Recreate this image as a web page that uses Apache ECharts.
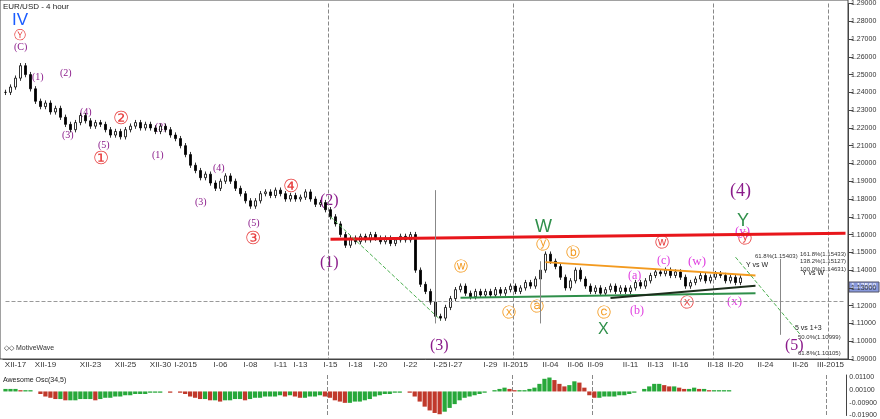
<!DOCTYPE html><html><head><meta charset="utf-8">
<script src="https://cdn.jsdelivr.net/npm/echarts@6/dist/echarts.min.js"></script>
<style>html,body{margin:0;background:#fff}#c{width:880px;height:419px}</style></head><body><div id="c"></div>
<script>
const closes=[1.240,1.243,1.248,1.255,1.250,1.242,1.235,1.232,1.234,1.229,1.231,1.226,1.222,1.219,1.223,1.227,1.224,1.221,1.223,1.222,
1.219,1.216,1.218,1.215,1.219,1.221,1.223,1.220,1.222,1.220,1.218,1.221,1.219,1.216,1.214,1.210,1.205,1.199,1.196,1.192,
1.194,1.189,1.186,1.190,1.193,1.190,1.186,1.183,1.179,1.176,1.179,1.183,1.184,1.182,1.185,1.183,1.180,1.182,1.180,1.181,
1.184,1.180,1.177,1.178,1.174,1.170,1.166,1.160,1.154,1.158,1.156,1.159,1.157,1.160,1.158,1.156,1.158,1.155,1.157,1.159,
1.157,1.160,1.140,1.132,1.128,1.122,1.114,1.113,1.119,1.124,1.129,1.131,1.127,1.125,1.128,1.126,1.128,1.126,1.129,1.127,
1.129,1.131,1.128,1.130,1.133,1.131,1.135,1.140,1.149,1.145,1.142,1.136,1.130,1.134,1.140,1.135,1.131,1.128,1.130,1.127,
1.129,1.131,1.128,1.130,1.128,1.130,1.133,1.131,1.134,1.137,1.139,1.138,1.140,1.137,1.139,1.136,1.131,1.133,1.135,1.137,
1.134,1.136,1.138,1.137,1.134,1.136,1.133,1.1356];
const ao=[0.002,0.002,0.002,0.001,0.001,0.001,0,-0.002,-0.004,-0.005,-0.006,-0.006,-0.007,-0.007,-0.007,-0.006,-0.006,-0.006,-0.007,-0.006,
-0.005,-0.005,-0.004,-0.004,-0.003,-0.003,-0.002,-0.002,-0.002,-0.001,-0.001,-0.001,0,-0.001,0,-0.001,-0.002,-0.004,-0.005,-0.006,
-0.006,-0.007,-0.007,-0.008,-0.007,-0.007,-0.006,-0.006,-0.007,-0.006,-0.005,-0.005,-0.004,-0.004,-0.004,-0.003,-0.004,-0.003,-0.004,-0.005,
-0.005,-0.004,-0.004,-0.003,-0.004,-0.005,-0.007,-0.008,-0.009,-0.009,-0.008,-0.008,-0.007,-0.006,-0.004,-0.003,-0.002,-0.002,-0.001,-0.001,
0,-0.001,-0.004,-0.008,-0.012,-0.015,-0.017,-0.018,-0.016,-0.013,-0.010,-0.007,-0.005,-0.004,-0.003,-0.002,-0.001,0,0.001,0.002,
0.003,0.002,0.001,0.001,0.001,0.002,0.003,0.006,0.010,0.011,0.009,0.006,0.004,0.005,0.008,0.007,0.003,-0.003,-0.005,-0.005,
-0.004,-0.004,-0.004,-0.003,-0.003,-0.002,-0.001,0,0.002,0.004,0.006,0.006,0.005,0.004,0.004,0.003,0.002,0.002,0.003,0.002,
0.002,0.001,0.001,0.001,0.001,0.001,0.000,0.000];
const dateLabels={2:'XII-17',8:'XII-19',17:'XII-23',24:'XII-25',31:'XII-30',36:'I-2015',43:'I-06',49:'I-08',55:'I-11',59:'I-13',65:'I-15',70:'I-18',75:'I-20',81:'I-22',87:'I-25',90:'I-27',97:'I-29',102:'II-2015',109:'II-04',114:'II-06',118:'II-09',125:'II-11',130:'II-13',135:'II-16',142:'II-18',146:'II-20',152:'II-24',159:'II-26',165:'III-2015'};
const N=169;
const cats=[];for(let i=0;i<N;i++)cats.push(String(i));
const ohlc=closes.map((c,i)=>{const o=i?closes[i-1]:c;return [o,c,Math.min(o,c)-0.0015,Math.max(o,c)+0.0015];});
const aoData=ao.map((v,i)=>({value:v,itemStyle:{color:(i&&v<ao[i-1])?'#c0392b':'#27a83a'}}));
const chart=echarts.init(document.getElementById('c'));
function ln(a,b,col,w,t){return [{coord:[String(a[0]),a[1]],lineStyle:{color:col,width:w,type:t||'solid'}},{coord:[String(b[0]),b[1]]}];}
const txt=(x,y,s,c,f,fam)=>({type:'text',left:x,top:y,style:{text:s,fill:c,font:(f||11)+'px '+(fam||'serif')}});
chart.setOption({animation:false,
grid:[{left:3,right:32,top:3,height:356},{left:3,right:32,top:375,height:42}],
xAxis:[{type:'category',data:cats,gridIndex:0,boundaryGap:true,
 axisLine:{lineStyle:{color:'#444'}},axisTick:{interval:i=>dateLabels[i]!==undefined,lineStyle:{color:'#444'}},
 axisLabel:{interval:i=>dateLabels[i]!==undefined,formatter:(v,i)=>dateLabels[i]||'',fontSize:8,color:'#333',margin:2},
 splitLine:{show:true,interval:i=>[65,102,142,165].includes(i),lineStyle:{color:'#888',type:'dashed'}}},
 {type:'category',data:cats,gridIndex:1,axisLabel:{show:false},axisTick:{show:false},axisLine:{show:false},
 splitLine:{show:true,interval:i=>[65,102,118,165].includes(i),lineStyle:{color:'#888',type:'dashed'}}}],
yAxis:[{type:'value',gridIndex:0,position:'right',min:1.09,max:1.29,interval:0.01,
 axisLabel:{fontSize:7,color:'#333',formatter:v=>v.toFixed(5),margin:3},axisLine:{show:true,lineStyle:{color:'#444'}},axisTick:{show:true},splitLine:{show:false}},
 {type:'value',gridIndex:1,position:'right',min:-0.019,max:0.013,interval:0.01,
 axisLabel:{fontSize:7,color:'#333',formatter:v=>Math.abs(v)<1e-9?'':v.toFixed(5),margin:3},axisLine:{show:true,lineStyle:{color:'#444'}},splitLine:{show:false}}],
series:[{type:'candlestick',data:ohlc,xAxisIndex:0,yAxisIndex:0,barWidth:2,
 itemStyle:{color:'#fff',color0:'#000',borderColor:'#000',borderColor0:'#000',borderWidth:0.8},
 markLine:{symbol:'none',silent:true,label:{show:false},data:[
  ln([65,1.1573],[168,1.1608],'#e8161b',3),
  ln([108,1.1445],[150,1.137],'#f39a1f',2),
  ln([91,1.1245],[150,1.127],'#2f8f4a',2),
  ln([121,1.1243],[150,1.1312],'#1c2e1c',2),
  ln([0,1.1225],[168,1.1225],'#999',1,'dashed'),
  ln([65,1.170],[87,1.112],'#4caf50',1,'dashed'),
  ln([146,1.1473],[159,1.1036],'#4caf50',1,'dashed'),
  ln([145,1.154],[169,1.154],'#444',1),
  ln([145,1.1486],[169,1.1486],'#444',1),
  ln([145,1.1463],[169,1.1463],'#444',1),
  ln([155,1.1463],[155,1.1036],'#888',1),
  ln([155,1.110],[169,1.110],'#444',1),
  ln([155,1.1010],[169,1.1010],'#444',1),
  ln([86,1.185],[86,1.110],'#888',1),
  ln([107,1.145],[107,1.110],'#888',1)
 ]}},
 {type:'bar',data:aoData,xAxisIndex:1,yAxisIndex:1,barWidth:'85%'}],
graphic:[
 {type:'rect',shape:{x:0,y:0,width:848,height:359},style:{fill:'none',stroke:'#444'}},
 txt(3,3,'EUR/USD - 4 hour','#222',8,'sans-serif'),
 txt(12,12,'IV','#1a5cff',17,'sans-serif'),
 txt(14,30,'Ⓨ','#e84040',12),txt(14,42,'(C)','#8a1a8a',10),
 txt(32,72,'(1)','#8a1a8a',10),txt(60,68,'(2)','#8a1a8a',10),txt(62,130,'(3)','#8a1a8a',10),
 txt(80,107,'(4)','#8a1a8a',10),txt(98,140,'(5)','#8a1a8a',10),
 txt(113,110,'②','#e84040',18),txt(93,150,'①','#e84040',18),
 txt(155,122,'(2)','#8a1a8a',10),txt(152,150,'(1)','#8a1a8a',10),
 txt(213,163,'(4)','#8a1a8a',10),txt(195,197,'(3)','#8a1a8a',10),txt(248,218,'(5)','#8a1a8a',10),
 txt(245,230,'③','#e84040',18),txt(283,178,'④','#e84040',18),
 txt(320,193,'(2)','#8a1a8a',16),txt(320,255,'(1)','#8a1a8a',16),txt(430,338,'(3)','#8a1a8a',16),
 txt(535,218,'W','#2f8f4a',18,'sans-serif'),txt(598,322,'X','#2f8f4a',16,'sans-serif'),
 txt(730,182,'(4)','#8a1a8a',18),txt(737,212,'Y','#2f8f4a',18,'sans-serif'),
 txt(785,338,'(5)','#8a1a8a',16),
 txt(454,260,'ⓦ','#f39a1f',14),txt(536,238,'ⓨ','#f39a1f',14),txt(566,246,'ⓑ','#f39a1f',14),
 txt(502,306,'ⓧ','#f39a1f',14),txt(530,300,'ⓐ','#f39a1f',14),txt(597,306,'ⓒ','#f39a1f',14),
 txt(655,236,'ⓦ','#e84040',14),txt(738,232,'ⓨ','#e84040',14),txt(680,296,'ⓧ','#e84040',14),
 txt(628,270,'(a)','#e040e0',12),txt(657,255,'(c)','#e040e0',12),txt(630,305,'(b)','#e040e0',12),
 txt(688,255,'(w)','#e040e0',13),txt(727,295,'(x)','#e040e0',13),txt(735,225,'(y)','#e040e0',13),
 txt(802,270,'Y vs W','#222',7,'sans-serif'),txt(746,262,'Y vs W','#222',7,'sans-serif'),
 txt(795,325,'5 vs 1+3','#222',7,'sans-serif'),
 txt(755,253,'61.8%(1.15403)','#333',6,'sans-serif'),txt(800,251,'161.8%(1.15433)','#333',6,'sans-serif'),
 txt(800,258,'138.2%(1.15127)','#333',6,'sans-serif'),txt(800,266,'100.0%(1.14631)','#333',6,'sans-serif'),
 txt(798,334,'50.0%(1.10999)','#333',6,'sans-serif'),txt(798,350,'61.8%(1.10105)','#333',6,'sans-serif'),
 txt(4,345,'◇◇ MotiveWave','#333',7,'sans-serif'),
 txt(3,377,'Awesome Osc(34,5)','#222',7,'sans-serif'),
 {type:'rect',shape:{x:849,y:282,width:30,height:10},style:{fill:'#8899dd',stroke:'#556'}},
 txt(851,283,'1.13569','#fff',7,'sans-serif')
]});
</script></body></html>
